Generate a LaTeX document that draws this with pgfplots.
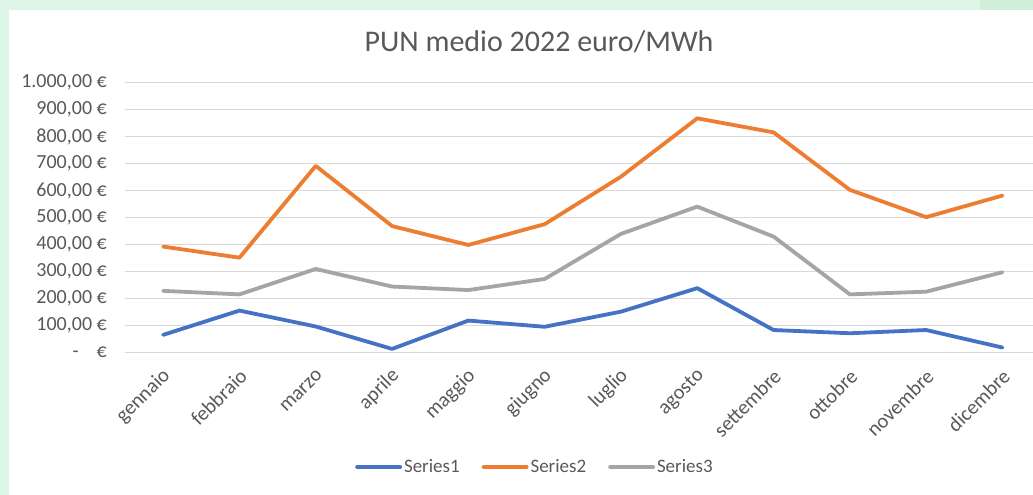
\documentclass[border=0pt]{standalone}
\usepackage{fontspec}
\setmainfont{Carlito}
\usepackage{pgfplots}
\pgfplotsset{compat=1.18}
\definecolor{sBlue}{HTML}{4472C4}
\definecolor{sOrange}{HTML}{ED7D31}
\definecolor{sGray}{HTML}{A5A5A5}
\definecolor{gridc}{HTML}{D9D9D9}
\definecolor{txt}{HTML}{595959}
\definecolor{bggreen}{HTML}{DDF6E7}
\definecolor{bggreen2}{HTML}{D0EEDA}
\begin{document}
\begin{tikzpicture}[x=1pt,y=1pt]
\useasboundingbox (0,0) rectangle (1033,495);
\fill[bggreen] (0,0) rectangle (1033,495);
\fill[bggreen2] (980,485) rectangle (1033,495);
\fill[white] (9,0) rectangle (1033,485);
\node[font=\fontsize{30}{36}\selectfont, text=txt] at (539,453) {PUN medio 2022 euro/MWh};
\begin{axis}[
  at={(125pt,142.3pt)}, anchor=south west,
  width=908pt, height=270pt, scale only axis,
  xmin=-0.5, xmax=11.4, ymin=0, ymax=1000,
  axis line style={draw=none},
  major tick length=0pt,
  ymajorgrids, grid style={gridc, line width=1.3pt},
  ytick={0,100,...,1000},
  yticklabels={{-\hspace{0.9em}€},{100,00 €},{200,00 €},{300,00 €},{400,00 €},{500,00 €},{600,00 €},{700,00 €},{800,00 €},{900,00 €},{1.000,00 €}},
  yticklabel style={font=\fontsize{20}{24}\selectfont, text=txt, inner sep=0pt, anchor=east, xshift=-18pt},
  xtick={0,...,11},
  xticklabels={gennaio,febbraio,marzo,aprile,maggio,giugno,luglio,agosto,settembre,ottobre,novembre,dicembre},
  xticklabel style={font=\fontsize{20.5}{24}\selectfont, text=txt, yshift=-20pt, xshift=4pt, rotate=45, anchor=east, inner sep=0pt},
  legend columns=3,
  legend style={at={(0.4515,-0.423)}, anchor=center, draw=none, fill=none, font=\fontsize{19}{23}\selectfont, text=txt,
    /tikz/every even column/.append style={column sep=20pt}, inner sep=0pt},
  legend image code/.code={\draw[#1] (0pt,0pt) -- (43pt,0pt);},
  every axis plot/.append style={line width=3.8pt, line join=round, line cap=round},
]
\addplot[sBlue] coordinates {(0,66) (1,156) (2,97) (3,14) (4,119) (5,96) (6,152) (7,239) (8,84) (9,72) (10,84) (11,19)};
\addlegendentry{Series1}
\addplot[sOrange] coordinates {(0,393) (1,352) (2,692) (3,469) (4,399) (5,476) (6,652) (7,868) (8,816) (9,603) (10,502) (11,582)};
\addlegendentry{Series2}
\addplot[sGray] coordinates {(0,229) (1,216) (2,310) (3,245) (4,232) (5,273) (6,440) (7,541) (8,430) (9,216) (10,226) (11,298)};
\addlegendentry{Series3}
\end{axis}
\end{tikzpicture}
\end{document}
